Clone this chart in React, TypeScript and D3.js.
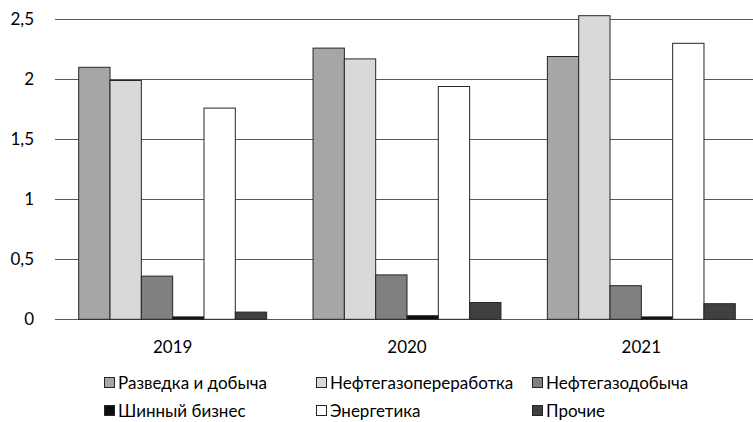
import React, { useEffect, useRef } from 'react';
import * as d3 from 'd3';

const years = ['2019', '2020', '2021'];
const seriesNames = [
  'Разведка и добыча',
  'Нефтегазопереработка',
  'Нефтегазодобыча',
  'Шинный бизнес',
  'Энергетика',
  'Прочие',
];
const seriesColors = ['#a6a6a6', '#d9d9d9', '#808080', '#0d0d0d', '#ffffff', '#404040'];

// values per series, one entry per year
const razvedka = [2.1, 2.26, 2.19];
const neftepererabotka = [1.99, 2.17, 2.53];
const neftedobycha = [0.36, 0.37, 0.28];
const shiny = [0.02, 0.03, 0.02];
const energetika = [1.76, 1.94, 2.3];
const prochie = [0.06, 0.14, 0.13];
const seriesValues = [razvedka, neftepererabotka, neftedobycha, shiny, energetika, prochie];

const yTicks = [0, 0.5, 1, 1.5, 2, 2.5];

const FONT = 'Lato, "Open Sans", sans-serif';

export default function App() {
  const svgRef = useRef<SVGSVGElement>(null);

  useEffect(() => {
    if (!svgRef.current) return;
    const svg = d3.select(svgRef.current);
    svg.selectAll('*').remove();

    const width = 753;
    const height = 422;
    const plotLeft = 55.5;
    const plotRight = 758.5;

    const x0 = d3.scaleBand<string>().domain(years).range([plotLeft, plotRight]).padding(0);
    const gap = 23.2;
    const x1 = d3
      .scaleBand<number>()
      .domain(d3.range(seriesNames.length))
      .range([gap, x0.bandwidth() - gap])
      .padding(0);

    const y = d3.scaleLinear().domain([0, 2.5]).range([319.3, 19.3]);

    svg.append('rect').attr('width', width).attr('height', height).attr('fill', '#fff');

    // gridlines
    svg
      .append('g')
      .selectAll('line')
      .data(yTicks)
      .enter()
      .append('line')
      .attr('x1', 55)
      .attr('x2', width)
      .attr('y1', d => Math.round(y(d)) + 0.5)
      .attr('y2', d => Math.round(y(d)) + 0.5)
      .attr('stroke', '#595959')
      .attr('stroke-width', 1);

    // y labels
    svg
      .append('g')
      .selectAll('text')
      .data(yTicks)
      .enter()
      .append('text')
      .attr('x', 34)
      .attr('y', d => y(d))
      .attr('dy', '0.35em')
      .attr('text-anchor', 'end')
      .style('font-family', FONT)
      .style('font-size', '17px')
      .attr('fill', '#000')
      .text(d => String(d).replace('.', ','));

    // bars
    const groups = svg
      .append('g')
      .selectAll('g')
      .data(years)
      .enter()
      .append('g')
      .attr('transform', d => `translate(${x0(d)},0)`);

    groups
      .selectAll('rect')
      .data((_, yi) => seriesValues.map((vals, si) => ({ si, v: vals[yi] })))
      .enter()
      .append('rect')
      .attr('x', d => (x1(d.si) || 0))
      .attr('y', d => y(d.v))
      .attr('width', x1.bandwidth())
      .attr('height', d => y(0) - y(d.v))
      .attr('fill', d => seriesColors[d.si])
      .attr('stroke', '#262626')
      .attr('stroke-width', 1);

    // x labels
    svg
      .append('g')
      .selectAll('text')
      .data(years)
      .enter()
      .append('text')
      .attr('x', d => (x0(d) || 0) + x0.bandwidth() / 2)
      .attr('y', 353)
      .attr('text-anchor', 'middle')
      .style('font-family', FONT)
      .style('font-size', '17px')
      .attr('fill', '#000')
      .text(d => d);

    // legend
    const legendX = [104, 316, 532];
    const legendY = [383, 411];
    const legend = svg
      .append('g')
      .selectAll('g')
      .data(seriesNames)
      .enter()
      .append('g')
      .attr('transform', (_, i) => `translate(${legendX[i % 3]},${legendY[Math.floor(i / 3)]})`);

    legend
      .append('rect')
      .attr('x', 0.5)
      .attr('y', -5.5)
      .attr('width', 10)
      .attr('height', 10)
      .attr('fill', (_, i) => seriesColors[i])
      .attr('stroke', '#262626')
      .attr('stroke-width', 1);

    legend
      .append('text')
      .attr('x', 14)
      .attr('y', 0)
      .attr('dy', '0.35em')
      .style('font-family', FONT)
      .style('font-size', '17px')
      .attr('fill', '#000')
      .text(d => d);
  }, []);

  return (
    <svg
      ref={svgRef}
      width={753}
      height={422}
      style={{ position: 'absolute', left: 0, top: 0, display: 'block' }}
    />
  );
}
